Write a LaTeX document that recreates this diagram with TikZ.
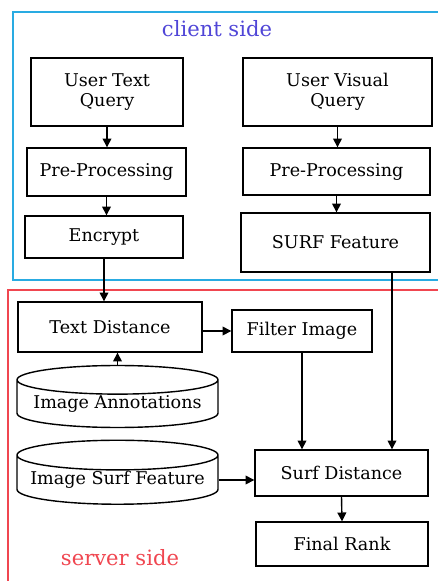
\documentclass[tikz,border=0pt]{standalone}
\usepackage{fontspec}
\setmainfont{DejaVu Serif}
\usetikzlibrary{shapes.geometric, arrows.meta, positioning, calc}
\definecolor{clientBlue}{RGB}{41, 171, 226}
\definecolor{clientText}{RGB}{80, 70, 215}
\definecolor{serverRed}{RGB}{240, 70, 80}

\begin{document}
\begin{tikzpicture}[x=0.02cm, y=-0.02cm,
            box/.style={rectangle, draw, line width=0.8pt, font=\fontsize{10}{11.5}\selectfont, align=center, inner sep=0pt},
            store/.style={cylinder, shape border rotate=90, aspect=0.17, draw, line width=0.8pt,
                          font=\fontsize{10}{11.5}\selectfont, inner sep=0pt},
            arrow/.style={-{Triangle[width=5pt, length=5pt]}, line width=0.8pt},
            region/.style={line width=1pt}
        ]
            \useasboundingbox (0,0) rectangle (437,581);

            % Regions
            \draw[region, clientBlue] (13,12) rectangle (445,280);
            \draw[region, serverRed] (8,290) rectangle (445,590);
            \node[font=\fontsize{12}{14}\selectfont, text=clientText] (client) at (217,29) {client side};
            \node[font=\fontsize{12}{14}\selectfont, text=serverRed] (server) at (120,558) {server side};

            % Client side
            \node[box, minimum width=3.04cm, minimum height=1.36cm] (utq) at (107,92) {User Text\\Query};
            \node[box, minimum width=3.78cm, minimum height=1.36cm] (uvq) at (337.5,92) {User Visual\\Query};
            \node[box, minimum width=3.18cm, minimum height=0.96cm] (pre1) at (106.5,172) {Pre-Processing};
            \node[box, minimum width=3.74cm, minimum height=0.94cm] (pre2) at (336.5,171.5) {Pre-Processing};
            \node[box, minimum width=3.16cm, minimum height=0.84cm] (enc) at (104,237) {Encrypt};
            \node[box, minimum width=3.78cm, minimum height=1.18cm] (surf) at (335.5,242.5) {SURF Feature};

            % Server side
            \node[box, minimum width=3.68cm, minimum height=1.0cm] (td) at (110,327) {Text Distance};
            \node[box, minimum width=2.8cm, minimum height=0.84cm] (fi) at (302,331) {Filter Image};
            \node[store, minimum width=4.02cm, minimum height=1.24cm] (ann) at (117.5,404) {Image Annotations};
            \node[store, minimum width=4.02cm, minimum height=1.28cm] (isf) at (117.5,480) {Image Surf Feature};
            \node[box, minimum width=3.46cm, minimum height=0.92cm] (sd) at (341.5,473) {Surf Distance};
            \node[box, minimum width=3.44cm, minimum height=0.88cm] (fr) at (342,544) {Final Rank};

            \coordinate (surfout) at ([xshift=1.13cm]surf.south);

            \draw[arrow] (utq.south) -- (utq.south |- pre1.north);
            \draw[arrow] (pre1.south) -- (pre1.south |- enc.north);
            \draw[arrow] (uvq.south) -- (uvq.south |- pre2.north);
            \draw[arrow] (pre2.south) -- (pre2.south |- surf.north);
            \draw[arrow] (enc.south) -- (enc.south |- td.north);
            \draw[arrow] (td.east |- fi) -- (fi.west);
            \draw[arrow] (ann.north) -- (ann.north |- td.south);
            \draw[arrow] (fi.south) -- (fi.south |- sd.north);
            \draw[arrow] (surfout) -- (surfout |- sd.north);
            \draw[arrow] (isf.east) -- (isf.east -| sd.west);
            \draw[arrow] (sd.south) -- (fr.north);
        \end{tikzpicture}
\end{document}
